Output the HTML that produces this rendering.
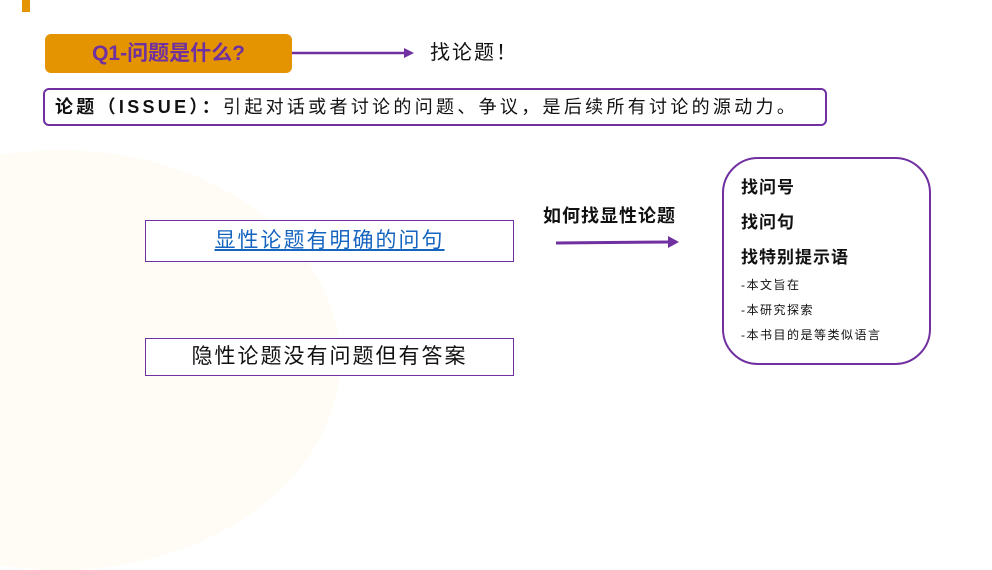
<!DOCTYPE html>
<html><head><meta charset="utf-8"><style>
*{margin:0;padding:0;box-sizing:border-box}
html,body{width:992px;height:410px}
body{position:relative;background:#fff;overflow:hidden;font-family:"Liberation Sans","Noto Sans CJK SC",sans-serif;color:#111}
.a{position:absolute;white-space:nowrap}
.bg{position:absolute;left:-220px;top:150px;width:560px;height:420px;border-radius:50%;background:#fffcf5}
</style></head><body>
<div class="bg"></div>
<div class="a" style="left:22px;top:0;width:8px;height:12px;background:#e39400"></div>
<div class="a" style="left:45px;top:34px;width:247px;height:39px;background:#e39400;border-radius:6px;color:#7030a0;font-weight:bold;font-size:21px;line-height:39px;text-align:center">Q1-问题是什么?</div>
<svg class="a" style="left:0;top:0" width="992" height="410">
<line x1="292" y1="53" x2="406" y2="53" stroke="#7030a0" stroke-width="2.5"/>
<polygon points="414,53 404,48 404,58" fill="#7030a0"/>
<line x1="556" y1="243" x2="670" y2="242" stroke="#7030a0" stroke-width="3"/>
<polygon points="679,242 668,236 668,248" fill="#7030a0"/>
</svg>
<div class="a" style="left:430px;top:40px;font-size:20px;line-height:26px;letter-spacing:2px">找论题！</div>
<div class="a" style="left:43px;top:88px;width:784px;height:38px;border:2px solid #7030a0;border-radius:6px;font-size:18px;line-height:34px;padding-left:10px;letter-spacing:3.3px"><b>论题（ISSUE）：</b>引起对话或者讨论的问题、争议，是后续所有讨论的源动力。</div>
<div class="a" style="left:145px;top:220px;width:369px;height:42px;border:1px solid #7030a0;background:#fff;text-align:center;font-size:21px;line-height:40px;color:#1565c0;text-decoration:underline;letter-spacing:2px">显性论题有明确的问句</div>
<div class="a" style="left:145px;top:338px;width:369px;height:38px;border:1px solid #7030a0;background:#fff;text-align:center;font-size:21px;line-height:36px;letter-spacing:2px">隐性论题没有问题但有答案</div>
<div class="a" style="left:543px;top:204px;font-size:18px;font-weight:bold;line-height:24px;letter-spacing:1px">如何找显性论题</div>
<div class="a" style="left:722px;top:157px;width:209px;height:208px;border:2px solid #7030a0;border-radius:36px"></div>
<div class="a" style="left:741px;top:177px;font-size:17px;font-weight:bold;line-height:22px;letter-spacing:1px">找问号</div>
<div class="a" style="left:741px;top:212px;font-size:17px;font-weight:bold;line-height:22px;letter-spacing:1px">找问句</div>
<div class="a" style="left:741px;top:247px;font-size:17px;font-weight:bold;line-height:22px;letter-spacing:1px">找特别提示语</div>
<div class="a" style="left:741px;top:277px;font-size:12px;line-height:16px;letter-spacing:1.5px">-本文旨在</div>
<div class="a" style="left:741px;top:302px;font-size:12px;line-height:16px;letter-spacing:1.5px">-本研究探索</div>
<div class="a" style="left:741px;top:327px;font-size:12px;line-height:16px;letter-spacing:1.5px">-本书目的是等类似语言</div>
</body></html>
